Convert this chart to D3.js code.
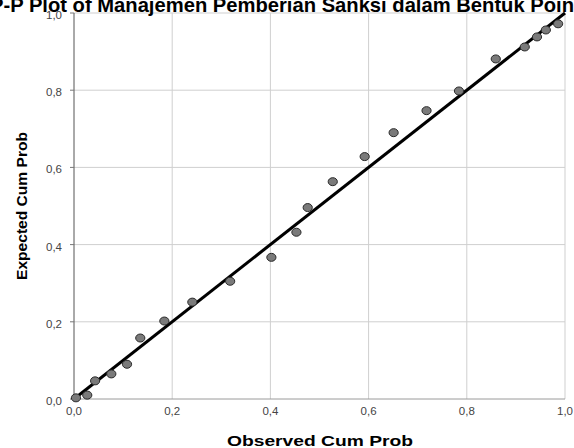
<!DOCTYPE html>
<html>
<head>
<meta charset="utf-8">
<script src="https://cdn.jsdelivr.net/npm/d3@7"></script>
<style>
  body { margin: 0; background: #fff; }
  svg { display: block; font-family: "Liberation Sans", Arial, sans-serif; }
</style>
</head>
<body>
<script>
var title = "P-P Plot of Manajemen Pemberian Sanksi dalam Bentuk Poin",
    xLabel = "Observed Cum Prob",
    yLabel = "Expected Cum Prob";

// observed / expected cumulative probabilities
var observed = [0.004, 0.027, 0.043, 0.076, 0.108, 0.135, 0.184, 0.241, 0.318, 0.402, 0.453,
                0.476, 0.527, 0.592, 0.651, 0.718, 0.784, 0.859, 0.918, 0.943, 0.961, 0.986];
var expected = [0.003, 0.010, 0.047, 0.065, 0.090, 0.158, 0.202, 0.251, 0.305, 0.367, 0.432,
                0.496, 0.563, 0.628, 0.690, 0.747, 0.798, 0.881, 0.912, 0.938, 0.956, 0.972];
var ticks = [0, 0.2, 0.4, 0.6, 0.8, 1.0];

var width = 574, height = 448;
var fmt = function(d) { return d3.format(".1f")(d).replace(".", ","); };

var x = d3.scaleLinear().domain([0, 1]).range([74, 565]),
    y = d3.scaleLinear().domain([0, 1]).range([399, 13]);

var svg = d3.select("body").append("svg")
    .attr("width", width)
    .attr("height", height);

// grid
svg.append("g").selectAll("line")
    .data(ticks.slice(1))
  .enter().append("line")
    .attr("x1", (d) => x(d)).attr("x2", (d) => x(d))
    .attr("y1", y(0)).attr("y2", y(1))
    .attr("stroke", "#cfcfcf").attr("stroke-width", 1);

svg.append("g").selectAll("line")
    .data(ticks.slice(1))
  .enter().append("line")
    .attr("x1", x(0)).attr("x2", x(1))
    .attr("y1", (d) => y(d)).attr("y2", (d) => y(d))
    .attr("stroke", "#cfcfcf").attr("stroke-width", 1);

// axes
svg.append("line")
    .attr("x1", x(0)).attr("x2", x(1))
    .attr("y1", y(0)).attr("y2", y(0))
    .attr("stroke", "#9a9a9a");
svg.append("line")
    .attr("x1", x(0)).attr("x2", x(0))
    .attr("y1", y(0)).attr("y2", y(1))
    .attr("stroke", "#555");

svg.append("g").selectAll("line")
    .data(ticks)
  .enter().append("line")
    .attr("x1", x(0) - 4).attr("x2", x(0))
    .attr("y1", (d) => y(d)).attr("y2", (d) => y(d))
    .attr("stroke", "#777");

svg.append("g").selectAll("text")
    .data(ticks)
  .enter().append("text")
    .attr("x", (d) => x(d))
    .attr("y", y(0) + 16)
    .attr("text-anchor", "middle")
    .attr("font-size", 11.5)
    .attr("fill", "#444")
    .text(fmt);

svg.append("g").selectAll("text")
    .data(ticks)
  .enter().append("text")
    .attr("x", x(0) - 12)
    .attr("y", (d) => y(d) + 6)
    .attr("text-anchor", "end")
    .attr("font-size", 11.5)
    .attr("fill", "#444")
    .text(fmt);

// reference line
svg.append("line")
    .attr("x1", x(0)).attr("y1", y(0))
    .attr("x2", x(1)).attr("y2", y(1))
    .attr("stroke", "#000").attr("stroke-width", 3);

// points
svg.append("g").selectAll("ellipse")
    .data(observed)
  .enter().append("ellipse")
    .attr("cx", (d) => x(d))
    .attr("cy", (d, i) => y(expected[i]))
    .attr("rx", 4.6).attr("ry", 4)
    .attr("fill", "#7a7a7a")
    .attr("stroke", "#2a2a2a").attr("stroke-width", 1);

// titles
svg.append("text")
    .attr("x", 282).attr("y", 12)
    .attr("text-anchor", "middle")
    .attr("font-size", 21).attr("font-weight", "bold")
    .attr("textLength", 584).attr("lengthAdjust", "spacingAndGlyphs")
    .text(title);

svg.append("text")
    .attr("x", 320).attr("y", 446)
    .attr("text-anchor", "middle")
    .attr("font-size", 15).attr("font-weight", "bold")
    .attr("textLength", 186).attr("lengthAdjust", "spacingAndGlyphs")
    .text(xLabel);

svg.append("text")
    .attr("transform", "translate(27,206) rotate(-90)")
    .attr("text-anchor", "middle")
    .attr("font-size", 15).attr("font-weight", "bold")
    .attr("textLength", 148).attr("lengthAdjust", "spacingAndGlyphs")
    .text(yLabel);
</script>
</body>
</html>
